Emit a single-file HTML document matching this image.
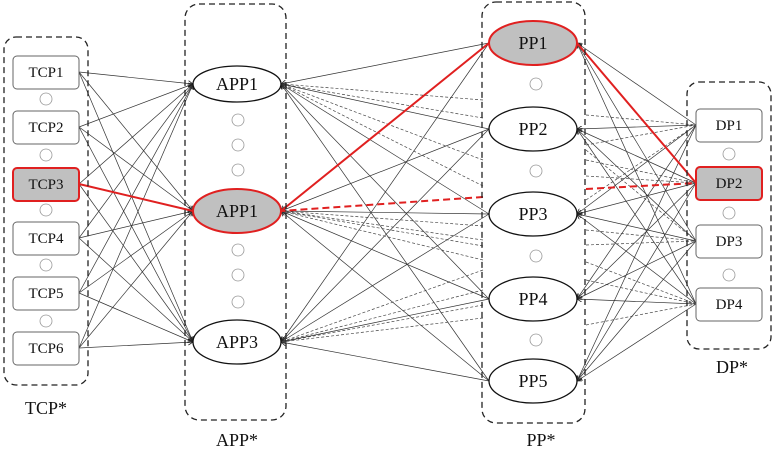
<!DOCTYPE html>
<html><head><meta charset="utf-8"><style>
html,body{margin:0;padding:0;background:#fff}
svg{display:block}
text{font-family:"Liberation Serif",serif}
</style></head><body>
<svg id="s" width="777" height="451" viewBox="0 0 777 451" xmlns="http://www.w3.org/2000/svg">
<defs>
<marker id="a" markerWidth="6" markerHeight="6" refX="5" refY="3" orient="auto" markerUnits="userSpaceOnUse"><path d="M0,0 L5,3 L0,6" fill="none" stroke="#222" stroke-width="0.8"/></marker>
</defs>
<g id="lines"></g>
<g id="groups" fill="none" stroke="#222" stroke-width="1.3" stroke-dasharray="6,4">
<rect x="4" y="37" width="84" height="348" rx="12"/>
<rect x="185" y="4" width="101" height="416" rx="14"/>
<rect x="482" y="2" width="103" height="421" rx="14"/>
<rect x="687" y="82" width="84" height="267" rx="12"/>
</g>
<g id="nodes"></g>
<g font-size="18" text-anchor="middle" fill="#111">
<text x="46" y="414">TCP*</text>
<text x="237" y="446">APP*</text>
<text x="541" y="446">PP*</text>
<text x="732" y="373">DP*</text>
</g>
</svg>
<script>
var NS="http://www.w3.org/2000/svg";
function el(p,t,a,txt){var e=document.createElementNS(NS,t);for(var k in a)e.setAttribute(k,a[k]);if(txt)e.textContent=txt;p.appendChild(e);return e;}
var L=document.getElementById('lines'),N=document.getElementById('nodes');
var tcp=[72,127,184,238,293,348],app=[84,211,342],pp=[43,129,214,299,381],dp=[125,183,241,304];
tcp.forEach(function(y){app.forEach(function(ay){el(L,'line',{x1:79,y1:y,x2:193,y2:ay,stroke:'#333','stroke-width':0.7,'marker-end':'url(#a)'});});});
pp.forEach(function(py){app.forEach(function(ay){el(L,'line',{x1:489,y1:py,x2:281,y2:ay,stroke:'#333','stroke-width':0.7,'marker-end':'url(#a)'});});});
var dA={84:[100,118,160,186],211:[226,246,240,260],342:[270,290,318,305]};
for(var k in dA){dA[k].forEach(function(y){el(L,'line',{x1:483,y1:y,x2:281,y2:+k,stroke:'#444','stroke-width':0.7,'stroke-dasharray':'3,2'});});}
dp.forEach(function(dy){pp.forEach(function(py){el(L,'line',{x1:696,y1:dy,x2:577,y2:py,stroke:'#333','stroke-width':0.7,'marker-end':'url(#a)'});});});
[[115,125],[145,125],[160,183],[176,183],[230,241],[245,241],[262,304],[280,304],[325,304],[200,125],[150,241]].forEach(function(p){el(L,'line',{x1:586,y1:p[0],x2:696,y2:p[1],stroke:'#444','stroke-width':0.7,'stroke-dasharray':'3,2'});});
el(L,'line',{x1:79,y1:184,x2:193,y2:211,stroke:'#e02020','stroke-width':2});
el(L,'line',{x1:489,y1:43,x2:281,y2:211,stroke:'#e02020','stroke-width':2});
el(L,'line',{x1:483,y1:197,x2:281,y2:211,stroke:'#e02020','stroke-width':2,'stroke-dasharray':'7,4'});
el(L,'line',{x1:577,y1:43,x2:696,y2:183,stroke:'#e02020','stroke-width':2});
el(L,'line',{x1:586,y1:189,x2:696,y2:183,stroke:'#e02020','stroke-width':2,'stroke-dasharray':'7,4'});
function box(x,y,label,red){el(N,'rect',{x:x,y:y-16,width:66,height:33,rx:4,fill:red?'#c0c0c0':'#fff',stroke:red?'#e02020':'#666','stroke-width':red?2:1});el(N,'text',{x:x+33,y:y+5,'font-size':15,'text-anchor':'middle',fill:'#111'},label);}
function ell(cx,cy,rx,ry,label,red){el(N,'ellipse',{cx:cx,cy:cy,rx:rx,ry:ry,fill:red?'#c0c0c0':'#fff',stroke:red?'#e02020':'#111','stroke-width':red?2:1.3});el(N,'text',{x:cx,y:cy+6,'font-size':18,'text-anchor':'middle',fill:'#111'},label);}
function dot(x,y){el(N,'circle',{cx:x,cy:y,r:6,fill:'#fff',stroke:'#999','stroke-width':0.8});}
tcp.forEach(function(y,i){box(13,y,'TCP'+(i+1),i==2);});
[99,155,210,265,321].forEach(function(y){dot(46,y);});
ell(237,84,44,18,'APP1');ell(237,211,44,22,'APP1',true);ell(237,342,44,22,'APP3');
[120,145,170,250,275,302].forEach(function(y){dot(238,y);});
pp.forEach(function(y,i){ell(533,y,44,22,'PP'+(i+1),i==0);});
[84,171,256,340].forEach(function(y){dot(536,y);});
dp.forEach(function(y,i){box(696,y,'DP'+(i+1),i==1);});
[154,213,275].forEach(function(y){dot(729,y);});
</script>
</body></html>
